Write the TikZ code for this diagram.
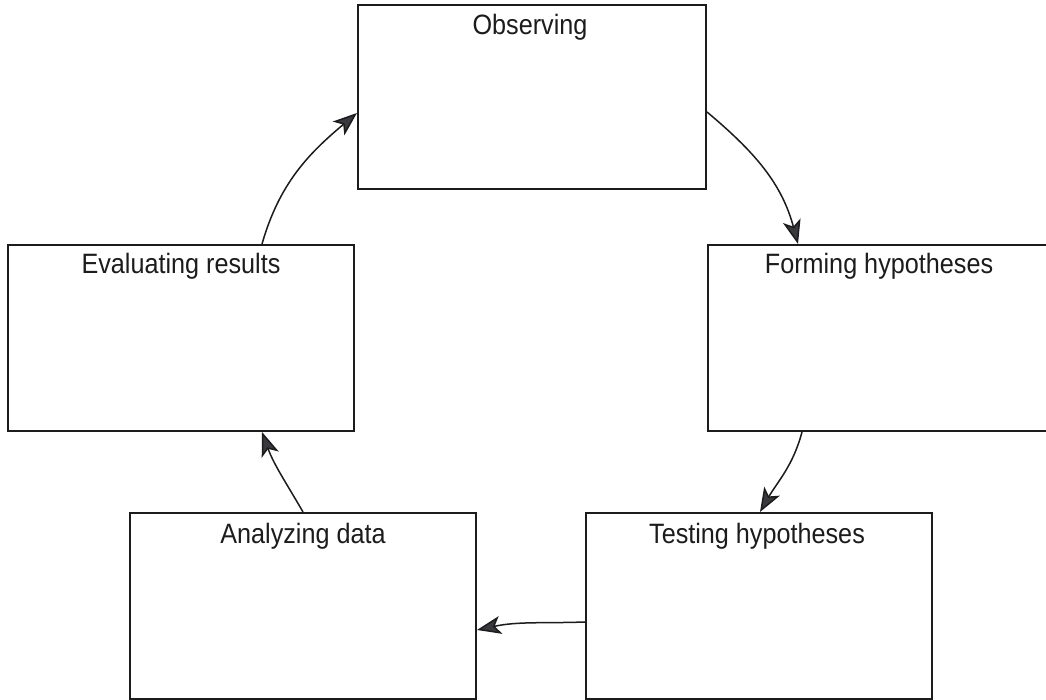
\documentclass[tikz,border=0pt]{standalone}
\usepackage{fontspec}
\setmainfont[FakeStretch=0.9]{Liberation Sans}
\usetikzlibrary{arrows.meta,calc}
\definecolor{ink}{HTML}{1C1C1C}
\definecolor{tipgray}{HTML}{38383E}
\begin{document}
\begin{tikzpicture}[x=1pt,y=1pt,
  stagebox/.style={draw=ink, line width=2pt, rectangle, inner sep=0pt, minimum width=346pt, minimum height=186pt},
  stagelabel/.style={anchor=base, inner sep=0pt, text=ink, font=\fontsize{28}{32}\selectfont},
  flow/.style={draw=ink, line width=1.5pt, -{Stealth[length=24pt, width=18pt, inset=6pt, fill=tipgray]}}]
\useasboundingbox (0,0) rectangle (1046,700);
\clip (0,0) rectangle (1046,700);
\fill[white] (0,0) rectangle (1046,700);
% boxes
\node[stagebox, minimum width=348pt, minimum height=184pt] (obs) at (532,603) {};
\node[stagebox] (eval) at (181,362) {};
\node[stagebox] (form) at (881,362) {};
\node[stagebox] (ana) at (303,94) {};
\node[stagebox] (test) at (759,94) {};
% labels
\node[stagelabel] (tobs) at ($(obs.north)+(-2,-31)$) {Observing};
\node[stagelabel] (teval) at ($(eval.north)+(0,-30)$) {Evaluating results};
\node[stagelabel] (tform) at ($(form.north)+(-2,-30)$) {Forming hypotheses};
\node[stagelabel] (tana) at ($(ana.north)+(0,-32)$) {Analyzing data};
\node[stagelabel] (ttest) at ($(test.north)+(-2,-32)$) {Testing hypotheses};
% arrows
\draw[flow] ($(eval.north)+(81,0)$) to[out=74, in=220] ($(obs.west)+(0,-16)$);
\draw[flow] ($(obs.east)+(0,-15)$) to[out=-40, in=105] ($(form.north)+(-83,0)$);
\draw[flow] ($(form.south)+(-79,0)$) to[out=-105, in=60] ($(test.north)+(1,0)$);
\draw[flow] ($(test.west)+(0,-16)$) to[out=182, in=12] ($(ana.east)+(0,-24)$);
\draw[flow] (ana.north) to[out=120, in=-70] ($(eval.south)+(81,0)$);
\end{tikzpicture}
\end{document}
